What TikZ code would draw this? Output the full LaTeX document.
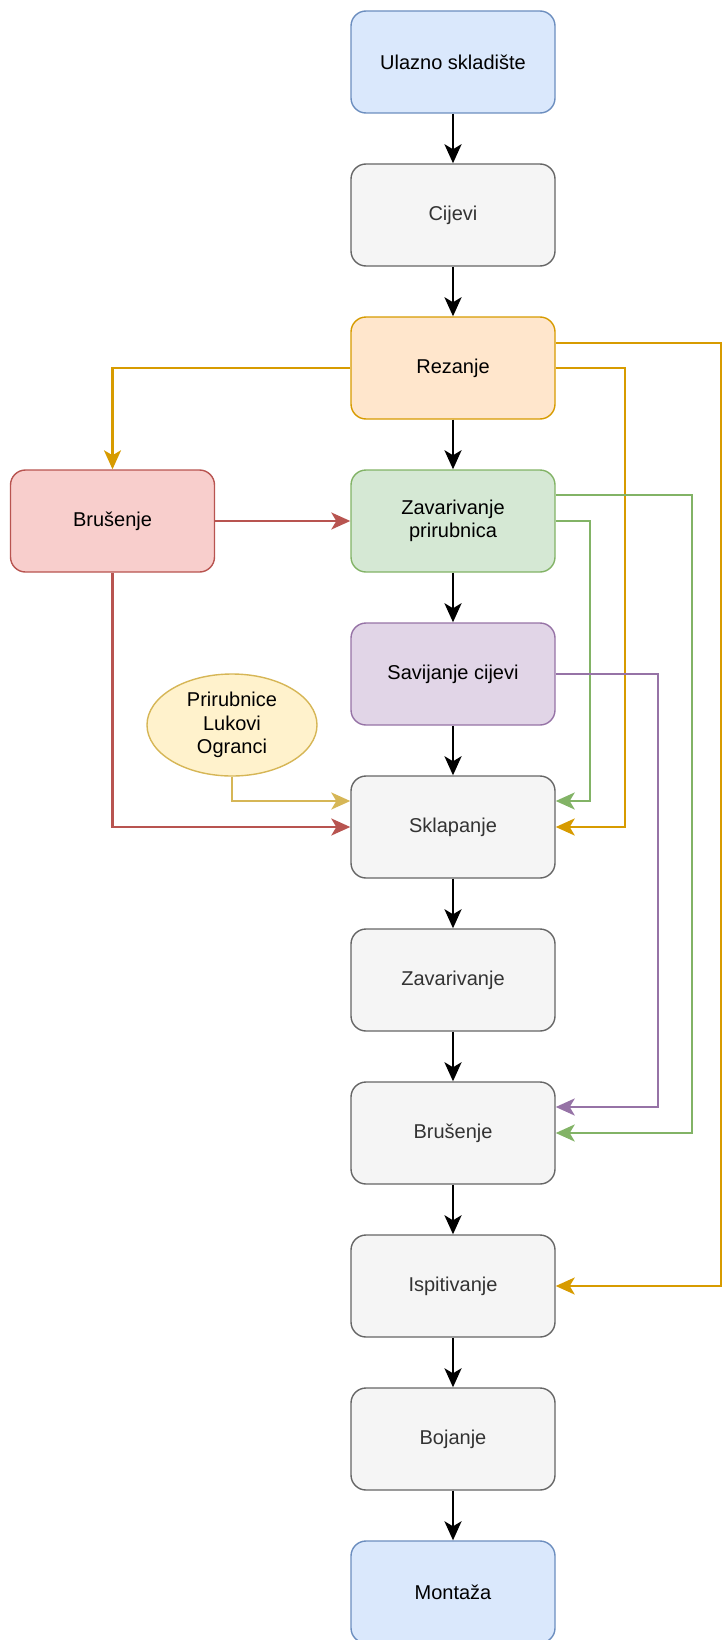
\documentclass[tikz,border=0pt]{standalone}
\usepackage{fontspec}
\setmainfont{Liberation Sans}
\usetikzlibrary{positioning, arrows.meta, shapes.geometric}

\definecolor{blueF}{HTML}{DAE8FC}
\definecolor{blueD}{HTML}{6C8EBF}
\definecolor{greyF}{HTML}{F5F5F5}
\definecolor{greyD}{HTML}{666666}
\definecolor{greyT}{HTML}{333333}
\definecolor{orangeF}{HTML}{FFE6CC}
\definecolor{orangeD}{HTML}{D79B00}
\definecolor{redF}{HTML}{F8CECC}
\definecolor{redD}{HTML}{B85450}
\definecolor{greenF}{HTML}{D5E8D4}
\definecolor{greenD}{HTML}{82B366}
\definecolor{purpleF}{HTML}{E1D5E7}
\definecolor{purpleD}{HTML}{9673A6}
\definecolor{yellowF}{HTML}{FFF2CC}
\definecolor{yellowD}{HTML}{D6B656}

\begin{document}
\begin{tikzpicture}[x=1pt, y=-1pt, node distance=153pt, on grid,
    every node/.style={font=\fontsize{20}{23.5}\selectfont, align=center},
    box/.style={draw, rounded corners=15pt, line width=1.4pt,
        minimum width=204pt, minimum height=102pt, inner sep=2pt},
    bluebox/.style={box, fill=blueF, draw=blueD},
    greybox/.style={box, fill=greyF, draw=greyD, text=greyT},
    orangebox/.style={box, fill=orangeF, draw=orangeD},
    redbox/.style={box, fill=redF, draw=redD},
    greenbox/.style={box, fill=greenF, draw=greenD},
    purplebox/.style={box, fill=purpleF, draw=purpleD},
    partsell/.style={ellipse, draw=yellowD, fill=yellowF, line width=1.4pt,
        minimum width=170pt, minimum height=102pt, inner sep=0pt},
    flow/.style={-{Stealth[length=19pt, width=17pt, inset=5pt]}, line width=2.6pt},
    sideflow/.style={flow, line width=2.4pt}]
    \useasboundingbox (0,0) rectangle (722,1640);

    % main column
    \node[bluebox] (ulaz) at (453,62) {Ulazno skladište};
    \node[greybox, below=of ulaz] (cijevi) {Cijevi};
    \node[orangebox, below=of cijevi] (rez) {Rezanje};
    \node[greenbox, below=of rez] (zavp) {Zavarivanje\\prirubnica};
    \node[purplebox, below=of zavp] (sav) {Savijanje cijevi};
    \node[greybox, below=of sav] (sklap) {Sklapanje};
    \node[greybox, below=of sklap] (zavar) {Zavarivanje};
    \node[greybox, below=of zavar] (brus) {Brušenje};
    \node[greybox, below=of brus] (ispit) {Ispitivanje};
    \node[greybox, below=of ispit] (boj) {Bojanje};
    \node[bluebox, below=of boj] (mont) {Montaža};

    % side parts
    \node[redbox, left=340.5pt of zavp] (brusL) {Brušenje};
    \node[partsell] (dijelovi) at (232,725) {Prirubnice\\Lukovi\\Ogranci};

    % return columns on the right
    \coordinate (colG1) at (590,0);
    \coordinate (colO) at (625,0);
    \coordinate (colP) at (658,0);
    \coordinate (colG2) at (692,0);
    \coordinate (edgeO) at (721,0);

    \foreach \a/\b in {ulaz/cijevi, cijevi/rez, rez/zavp, zavp/sav, sav/sklap,
        sklap/zavar, zavar/brus, brus/ispit, ispit/boj, boj/mont}
        \draw[flow] (\a) -- (\b);

    \draw[sideflow, orangeD] (rez.west) -| (brusL.north);
    \draw[sideflow, orangeD] ([yshift=25pt]rez.east) -- ([yshift=25pt]rez.east -| edgeO) |- (ispit.east);
    \draw[sideflow, orangeD] (rez.east) -- (rez.east -| colO) |- (sklap.east);
    \draw[sideflow, greenD] ([yshift=26pt]zavp.east) -- ([yshift=26pt]zavp.east -| colG2) |- (brus.east);
    \draw[sideflow, greenD] (zavp.east) -- (zavp.east -| colG1) |- ([yshift=26pt]sklap.east);
    \draw[sideflow, purpleD] (sav.east) -- (sav.east -| colP) |- ([yshift=26pt]brus.east);
    \draw[sideflow, redD] (brusL) -- (zavp);
    \draw[sideflow, redD] (brusL.south) |- (sklap.west);
    \draw[sideflow, yellowD] (dijelovi.south) |- ([yshift=26pt]sklap.west);
\end{tikzpicture}
\end{document}
